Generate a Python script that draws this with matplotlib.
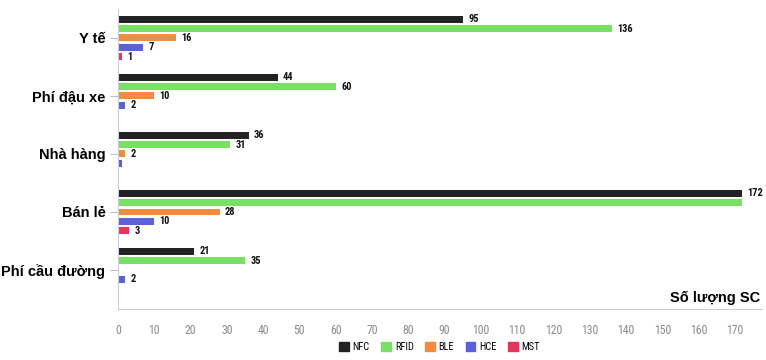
import numpy as np
import matplotlib
matplotlib.use("Agg")
import matplotlib.pyplot as plt
from matplotlib.patches import Patch
from matplotlib import font_manager

# Dados
categorias = ["Y tế", "Phí đậu xe", "Nhà hàng", "Bán lẻ", "Phí cầu đường"]
series = ["NFC", "RFID", "BLE", "HCE", "MST"]
nfc = [95, 44, 36, 172, 21]
rfid = [136, 60, 31, 172, 35]
ble = [16, 10, 2, 28, 0]
hce = [7, 2, 1, 10, 2]
mst = [1, 0, 0, 3, 0]
# rótulos mostrados (None = sem rótulo)
rot_nfc = ["95", "44", "36", "172", "21"]
rot_rfid = ["136", "60", "31", None, "35"]
rot_ble = ["16", "10", "2", "28", None]
rot_hce = ["7", "2", None, "10", "2"]
rot_mst = ["1", None, None, "3", None]
xticks = list(range(0, 171, 10))

cores = ["#222222", "#78e062", "#f28c3c", "#5c60dc", "#e8335c"]
valores = [nfc, rfid, ble, hce, mst]
rotulos = [rot_nfc, rot_rfid, rot_ble, rot_hce, rot_mst]

# fonte estreita se existir
nomes = {f.name for f in font_manager.fontManager.ttflist}
estreita = ["DejaVu Sans"]
for n in ["Liberation Sans Narrow", "Roboto Condensed", "DejaVu Sans Condensed",
          "Open Sans Condensed"]:
    if n in nomes:
        estreita = [n, "DejaVu Sans"]
        break

fig = plt.figure(figsize=(7.66, 3.6), dpi=100)
ax = fig.add_axes([0.154, 0.142, 0.841, 0.83])

y = np.arange(len(categorias))
passo = 0.162
altura = 0.12
for i, (vals, rots, cor) in enumerate(zip(valores, rotulos, cores)):
    pos = y + (i - 2) * passo
    ax.barh(pos, vals, height=altura, color=cor, label=series[i])
    for p, v, r in zip(pos, vals, rots):
        if r is not None:
            ax.text(v + 1.5, p, r, va="center", ha="left", fontsize=7.5,
                    fontweight="bold", family=estreita, color="#111111")

ax.set_ylim(4.67, -0.48)
ax.set_xlim(0, 177.5)
ax.set_yticks(y)
ax.set_yticklabels(categorias, fontsize=10.5, fontweight="bold",
                   family=["Liberation Sans", "DejaVu Sans"])
ax.set_xticks(xticks)
ax.set_xticklabels([str(t) for t in xticks], fontsize=8.5, family=estreita,
                   color="#8a8a8a")
ax.tick_params(axis="y", length=6, color="#b8c0cc", pad=3)
ax.tick_params(axis="x", length=0, pad=11)

for s in ["top", "right"]:
    ax.spines[s].set_visible(False)
ax.spines["left"].set_color("#c8d0dc")
ax.spines["bottom"].set_color("#c8d0dc")

ax.text(0.997, 0.035, "Số lượng SC", transform=ax.transAxes, ha="right",
        va="center", fontsize=10.5, fontweight="bold",
        family=["Liberation Sans", "DejaVu Sans"])

handles = [Patch(color=c, label=s) for s, c in zip(series, cores)]
leg = fig.legend(handles=handles, loc="center", bbox_to_anchor=(0.574, 0.035),
                 ncol=5, frameon=False, handlelength=0.9, handleheight=0.9,
                 handletextpad=0.4, columnspacing=1.1,
                 prop={"family": estreita, "size": 7.5})

fig.savefig("out.png", dpi=100)
